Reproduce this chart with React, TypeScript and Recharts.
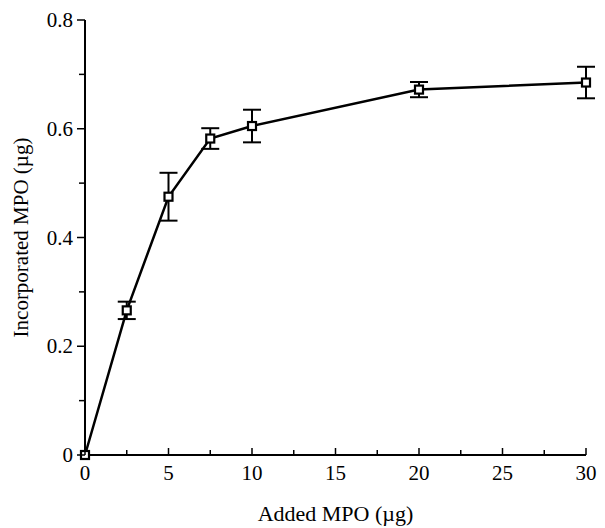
import React from 'react';
import { LineChart, Line, XAxis, YAxis, ErrorBar, Label } from 'recharts';

const addedMPO = [0, 2.5, 5, 7.5, 10, 20, 30];
const incorporatedMPO = [0, 0.266, 0.475, 0.582, 0.605, 0.672, 0.685];
const errorMPO = [0, 0.016, 0.044, 0.019, 0.03, 0.014, 0.029];

const xTicks = [0, 2.5, 5, 7.5, 10, 12.5, 15, 17.5, 20, 22.5, 25, 27.5, 30];
const xTickLabels = ['0', '', '5', '', '10', '', '15', '', '20', '', '25', '', '30'];
const yTicks = [0, 0.1, 0.2, 0.3, 0.4, 0.5, 0.6, 0.7, 0.8];
const yTickLabels = ['0', '', '0.2', '', '0.4', '', '0.6', '', '0.8'];

const data = addedMPO.map((x, i) => ({ x, y: incorporatedMPO[i], err: errorMPO[i] }));

const FONT = '"Liberation Serif", "Times New Roman", serif';

const XTick = (props: any) => {
  const { x, y, index } = props;
  const label = xTickLabels[index] ?? '';
  return (
    <g>
      <line x1={x} x2={x} y1={y} y2={y - (label ? 7 : 5)} stroke="#000" strokeWidth={1.5} />
      {label && (
        <text x={x} y={y + 25} textAnchor="middle" fontFamily={FONT} fontSize={21} fill="#000">
          {label}
        </text>
      )}
    </g>
  );
};

const YTick = (props: any) => {
  const { x, y, index } = props;
  const label = yTickLabels[index] ?? '';
  return (
    <g>
      <line x1={x} x2={x - (label ? 8 : 6)} y1={y} y2={y} stroke="#000" strokeWidth={1.5} />
      {label && (
        <text x={x - 12} y={y + 7} textAnchor="end" fontFamily={FONT} fontSize={21} fill="#000">
          {label}
        </text>
      )}
    </g>
  );
};

const SquareDot = (props: any) => {
  const { cx, cy } = props;
  if (cx == null || cy == null) return null;
  return <rect x={cx - 4} y={cy - 4} width={8} height={8} fill="#fff" stroke="#000" strokeWidth={2.2} />;
};

export default function App() {
  return (
    <div style={{ width: 589, height: 520 }}>
      <LineChart width={589} height={520} data={data} margin={{ top: 12, right: 11, bottom: 0, left: 0 }}>
        <XAxis
          dataKey="x"
          type="number"
          domain={[0, 30]}
          ticks={xTicks}
          interval={0}
          tickSize={0}
          tickMargin={0}
          tick={<XTick />}
          tickLine={false}
          axisLine={{ stroke: '#000', strokeWidth: 2 }}
          height={73}
        >
          <Label
            content={(p: any) => {
              const vb = p.viewBox;
              return (
                <text
                  x={vb.x + vb.width / 2}
                  y={vb.y + 66}
                  textAnchor="middle"
                  fontFamily={FONT}
                  fontSize={22}
                  fill="#000"
                >
                  Added MPO (µg)
                </text>
              );
            }}
          />
        </XAxis>
        <YAxis
          type="number"
          domain={[0, 0.8]}
          ticks={yTicks}
          interval={0}
          tickSize={0}
          tickMargin={0}
          tick={<YTick />}
          tickLine={false}
          axisLine={{ stroke: '#000', strokeWidth: 2 }}
          width={77}
        >
          <Label
            content={(p: any) => {
              const vb = p.viewBox;
              const cx = 20;
              const cy = vb.y + vb.height / 2;
              return (
                <text
                  x={cx}
                  y={cy}
                  transform={`rotate(-90 ${cx} ${cy})`}
                  textAnchor="middle"
                  fontFamily={FONT}
                  fontSize={21}
                  fill="#000"
                >
                  Incorporated MPO (µg)
                </text>
              );
            }}
          />
        </YAxis>
        <Line
          dataKey="y"
          type="linear"
          stroke="#000"
          strokeWidth={2.5}
          dot={<SquareDot />}
          activeDot={false}
          isAnimationActive={false}
        >
          <ErrorBar dataKey="err" width={9} stroke="#000" strokeWidth={2} direction="y" />
        </Line>
      </LineChart>
    </div>
  );
}
